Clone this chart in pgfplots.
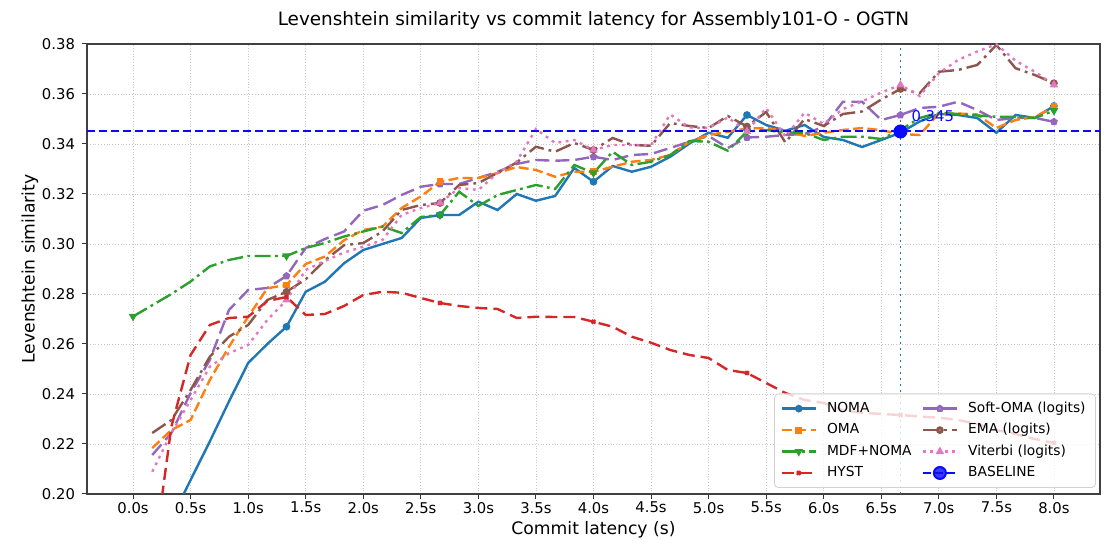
\documentclass[border=0pt]{standalone}
\usepackage{fontspec}
\setmainfont{DejaVu Sans}
\usepackage{pgfplots}
\usepackage{pgfplotstable}
\pgfplotsset{compat=1.18}
\usetikzlibrary{plotmarks}
\definecolor{tblue}{HTML}{1F77B4}
\definecolor{torange}{HTML}{FF7F0E}
\definecolor{tgreen}{HTML}{2CA02C}
\definecolor{tred}{HTML}{D62728}
\definecolor{tpurple}{HTML}{9467BD}
\definecolor{tbrown}{HTML}{8C564B}
\definecolor{tpink}{HTML}{E377C2}
\definecolor{pureblue}{RGB}{10,10,255}

% latency (s) vs similarity, one column per smoother
\pgfplotstableread{
x      noma   oma    hyst   soft   ema    vit
0.1667 0.1750 0.2184 0.1700 0.2156 0.2244 0.2089
0.3333 0.1900 0.2256 0.2270 0.2244 0.2296 0.2244
0.5000 0.2056 0.2296 0.2556 0.2404 0.2416 0.2376
0.6667 0.2210 0.2456 0.2676 0.2536 0.2549 0.2509
0.8333 0.2370 0.2589 0.2704 0.2736 0.2629 0.2563
1.0000 0.2524 0.2709 0.2709 0.2816 0.2676 0.2596
1.1667 0.2600 0.2823 0.2772 0.2824 0.2776 0.2696
1.3333 0.2669 0.2836 0.2788 0.2872 0.2809 0.2776
1.5000 0.2809 0.2920 0.2716 0.2984 0.2859 0.2896
1.6667 0.2849 0.2950 0.2720 0.3020 0.2935 0.2932
1.8333 0.2923 0.3015 0.2752 0.3050 0.2995 0.2966
2.0000 0.2976 0.3056 0.2796 0.3133 0.3004 0.2989
2.1667 0.3000 0.3069 0.2809 0.3156 0.3050 0.3016
2.3333 0.3024 0.3144 0.2805 0.3196 0.3136 0.3116
2.5000 0.3104 0.3190 0.2784 0.3229 0.3156 0.3144
2.6667 0.3116 0.3249 0.2764 0.3240 0.3164 0.3164
2.8333 0.3116 0.3264 0.2752 0.3240 0.3236 0.3224
3.0000 0.3169 0.3264 0.2744 0.3264 0.3244 0.3216
3.1667 0.3136 0.3284 0.2740 0.3289 0.3284 0.3284
3.3333 0.3200 0.3308 0.2704 0.3320 0.3326 0.3330
3.5000 0.3173 0.3296 0.2709 0.3336 0.3389 0.3460
3.6667 0.3192 0.3269 0.2708 0.3333 0.3369 0.3404
3.8333 0.3304 0.3289 0.2708 0.3336 0.3404 0.3416
4.0000 0.3249 0.3289 0.2689 0.3349 0.3376 0.3376
4.1667 0.3312 0.3309 0.2669 0.3336 0.3424 0.3396
4.3333 0.3289 0.3329 0.2629 0.3356 0.3396 0.3396
4.5000 0.3309 0.3336 0.2605 0.3360 0.3393 0.3396
4.6667 0.3349 0.3356 0.2576 0.3384 0.3484 0.3518
4.8333 0.3402 0.3409 0.2556 0.3409 0.3472 0.3466
5.0000 0.3445 0.3436 0.2544 0.3432 0.3464 0.3464
5.1667 0.3425 0.3449 0.2496 0.3384 0.3512 0.3506
5.3333 0.3516 0.3462 0.2484 0.3426 0.3470 0.3450
5.5000 0.3476 0.3464 0.2444 0.3429 0.3528 0.3544
5.6667 0.3453 0.3453 0.2404 0.3436 0.3406 0.3430
5.8333 0.3476 0.3432 0.2376 0.3440 0.3500 0.3525
6.0000 0.3428 0.3445 0.2364 0.3469 0.3472 0.3480
6.1667 0.3416 0.3456 0.2335 0.3569 0.3520 0.3540
6.3333 0.3388 0.3464 0.2325 0.3569 0.3530 0.3570
6.5000 0.3416 0.3455 0.2320 0.3496 0.3578 0.3606
6.6667 0.3445 0.3440 0.2316 0.3516 0.3620 0.3636
6.8333 0.3490 0.3436 0.2310 0.3544 0.3603 0.3592
7.0000 0.3520 0.3522 0.2305 0.3549 0.3689 0.3683
7.1667 0.3516 0.3522 0.2296 0.3569 0.3696 0.3736
7.3333 0.3504 0.3518 0.2280 0.3536 0.3716 0.3770
7.5000 0.3445 0.3464 0.2256 0.3496 0.3796 0.3799
7.6667 0.3516 0.3496 0.2240 0.3504 0.3703 0.3733
7.8333 0.3504 0.3508 0.2220 0.3504 0.3676 0.3689
8.0000 0.3552 0.3549 0.2204 0.3489 0.3643 0.3636
}\maindata

\pgfplotstableread{
x      mdf
0.0000 0.2710
0.1667 0.2755
0.3333 0.2800
0.5000 0.2850
0.6667 0.2910
0.8333 0.2936
1.0000 0.2952
1.1667 0.2952
1.3333 0.2952
1.5000 0.2984
1.6667 0.3004
1.8333 0.3030
2.0000 0.3050
2.1667 0.3070
2.3333 0.3044
2.5000 0.3108
2.6667 0.3116
2.8333 0.3209
3.0000 0.3152
3.1667 0.3196
3.3333 0.3216
3.5000 0.3236
3.6667 0.3220
3.8333 0.3316
4.0000 0.3284
4.1667 0.3369
4.3333 0.3316
4.5000 0.3329
4.6667 0.3356
4.8333 0.3412
5.0000 0.3409
5.1667 0.3373
5.3333 0.3450
5.5000 0.3456
5.6667 0.3445
5.8333 0.3444
6.0000 0.3416
6.1667 0.3429
6.3333 0.3429
6.5000 0.3420
6.6667 0.3456
6.8333 0.3504
7.0000 0.3525
7.1667 0.3520
7.3333 0.3514
7.5000 0.3509
7.6667 0.3508
7.8333 0.3504
8.0000 0.3533
}\mdfdata

\begin{document}
\begin{tikzpicture}
\begin{axis}[
  at={(0,0)}, anchor=south west,
  scale only axis, width=506.5pt, height=225pt,
  xmin=-0.4, xmax=8.4, ymin=0.2, ymax=0.38,
  xtick={0,0.5,1,1.5,2,2.5,3,3.5,4,4.5,5,5.5,6,6.5,7,7.5,8},
  xticklabels={0.0s,0.5s,1.0s,1.5s,2.0s,2.5s,3.0s,3.5s,4.0s,4.5s,5.0s,5.5s,6.0s,6.5s,7.0s,7.5s,8.0s},
  ytick={0.20,0.22,0.24,0.26,0.28,0.30,0.32,0.34,0.36,0.38},
  yticklabels={0.20,0.22,0.24,0.26,0.28,0.30,0.32,0.34,0.36,0.38},
  tick align=outside, tick pos=left, major tick length=2.5pt,
  tick style={black!80, line width=0.5pt},
  axis line style={black!75, line width=0.6pt},
  grid=major, grid style={densely dotted, gray!45, line width=0.4pt},
  ticklabel style={font=\fontsize{7.4}{8}\selectfont},
  xticklabel style={yshift=2pt},
  xlabel={Commit latency (s)}, ylabel={Levenshtein similarity},
  every axis x label/.style={at={(axis description cs:0.5,-0.08)}, anchor=center,
    font=\fontsize{8.6}{10}\selectfont},
  every axis y label/.style={at={(axis description cs:-0.0563,0.5)}, anchor=center,
    rotate=90, font=\fontsize{8.6}{10}\selectfont},
  title={Levenshtein similarity vs commit latency for Assembly101-O - OGTN},
  every axis title/.style={at={(axis description cs:0.5,1.052)}, anchor=center,
    font=\fontsize{9.2}{11}\selectfont},
  legend columns=2,
  legend style={at={(1,0)}, anchor=south east, xshift=-2pt, yshift=3pt,
    font=\fontsize{6.9}{7.5}\selectfont, fill=white, fill opacity=0.8, text opacity=1,
    draw=gray!35, rounded corners=2pt, column sep=3pt, row sep=0pt},
  legend cell align=left,
  legend image post style={mark repeat=2, mark phase=2},
  every axis plot/.append style={line width=1.2pt},
  mark size=1.3pt,
]
% legend fills row by row: left column NOMA, OMA, MDF+NOMA, HYST
\addplot[tblue, solid, mark=*, mark repeat=8, mark phase=6]
  table[x=x, y=noma] {\maindata};
\addlegendentry{NOMA}
\addplot[tpurple, dash pattern=on 7pt off 3pt, mark=pentagon*, mark options={solid},
  mark repeat=8, mark phase=8]
  table[x=x, y=soft] {\maindata};
\addlegendentry{Soft-OMA (logits)}
\addplot[torange, dash pattern=on 5pt off 2.2pt, mark=square*, mark size=1.1pt,
  mark options={solid}, mark repeat=8, mark phase=8]
  table[x=x, y=oma] {\maindata};
\addlegendentry{OMA}
\addplot[tbrown, dash pattern=on 8pt off 2.5pt on 1.4pt off 2.5pt, mark=*,
  mark options={solid}, mark repeat=8, mark phase=8]
  table[x=x, y=ema] {\maindata};
\addlegendentry{EMA (logits)}
\addplot[tgreen, dash pattern=on 8pt off 2.2pt on 1.4pt off 2.2pt, mark=triangle*,
  mark options={solid, rotate=180}, mark repeat=8, mark phase=1]
  table[x=x, y=mdf] {\mdfdata};
\addlegendentry{MDF+NOMA}
\addplot[tpink, dash pattern=on 1.4pt off 2.3pt, mark=triangle*, mark options={solid},
  mark repeat=8, mark phase=8]
  table[x=x, y=vit] {\maindata};
\addlegendentry{Viterbi (logits)}
\addplot[tred, dash pattern=on 6pt off 3pt, mark=x, mark options={solid},
  mark repeat=8, mark phase=7]
  table[x=x, y=hyst] {\maindata};
\addlegendentry{HYST}
% reference level and commit point
\addplot[pureblue, dash pattern=on 4pt off 2pt, line width=1.1pt, forget plot]
  coordinates {(-0.4,0.3451) (8.4,0.3451)};
\addplot[tblue, dash pattern=on 1pt off 2pt, line width=0.9pt, forget plot]
  coordinates {(6.6667,0.2) (6.6667,0.38)};
\addplot[pureblue, dash pattern=on 4pt off 2pt, line width=1pt, mark=*,
  mark size=3pt, mark options={solid, fill=pureblue}]
  coordinates {(6.6667,0.345)};
\addlegendentry{BASELINE}
\node[anchor=west, text=pureblue, font=\fontsize{7.4}{8}\selectfont, inner sep=0pt]
  at (axis cs:6.76,0.3512) {0.345};
\end{axis}
% canvas: 1px = 0.5pt, axis box at the origin
\pgfresetboundingbox
\useasboundingbox (-43.5pt,-30.5pt) rectangle (514.5pt,247pt);
\end{tikzpicture}
\end{document}
